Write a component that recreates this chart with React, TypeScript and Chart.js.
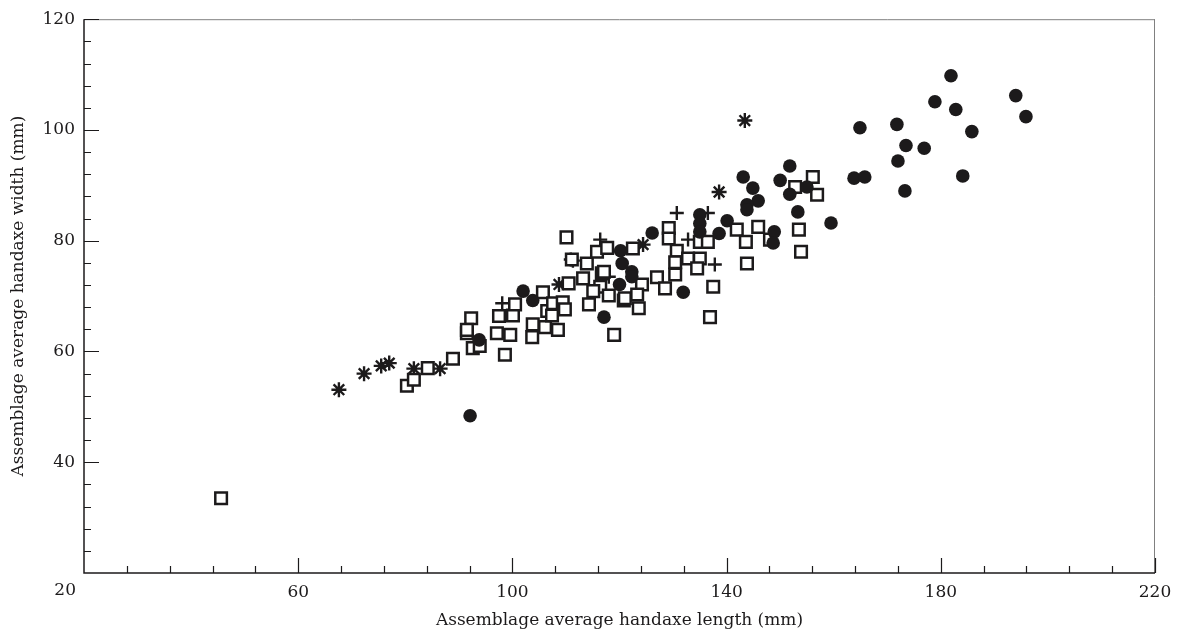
import React, { useEffect, useRef } from "react";
import { Chart, registerables } from "chart.js";

Chart.register(...registerables);

// ---- data (x = length mm, y = width mm) ----
const circlesX = [92.1, 93.8, 102.0, 103.8, 117.1, 131.9, 120.2, 120.5, 122.3, 120.0, 122.3, 126.1, 135.0, 135.0, 135.0, 138.6, 140.1, 143.1, 144.9, 145.9, 143.8, 143.8, 148.9, 148.7, 151.8, 150.0, 151.8, 155.0, 153.3, 159.5, 163.8, 165.8, 181.9, 178.9, 182.8, 185.8, 194.0, 195.9, 164.9, 171.8, 173.5, 176.9, 172.0, 184.1, 173.3];
const circlesY = [48.4, 62.1, 70.9, 69.2, 66.2, 70.7, 78.2, 75.9, 74.4, 72.1, 73.5, 81.4, 84.7, 83.1, 81.6, 81.3, 83.6, 91.5, 89.5, 87.2, 86.5, 85.6, 81.6, 79.6, 93.5, 90.9, 88.4, 89.7, 85.2, 83.2, 91.3, 91.5, 109.8, 105.1, 103.7, 99.7, 106.2, 102.4, 100.4, 101.0, 97.2, 96.7, 94.4, 91.7, 89.0];

const squaresX = [45.6, 80.3, 81.6, 84.2, 88.9, 92.6, 93.9, 98.6, 99.6, 97.1, 91.5, 92.3, 91.5, 97.5, 100.1, 100.5, 103.8, 103.7, 106.1, 105.7, 106.5, 107.4, 107.6, 109.4, 109.8, 108.5, 110.1, 111.1, 113.2, 113.9, 115.8, 116.7, 116.4, 115.1, 114.3, 118.0, 119.0, 120.8, 124.2, 123.3, 123.6, 127.0, 128.5, 129.2, 129.2, 130.7, 130.4, 130.4, 132.8, 135.0, 136.5, 135.0, 134.5, 141.9, 143.6, 143.8, 145.9, 148.1, 137.5, 136.9, 153.5, 153.9, 152.8, 156.1, 156.9, 122.5, 117.7, 117.1, 121.0, 110.5];
const squaresY = [33.5, 53.8, 54.9, 57.0, 58.7, 60.6, 61.0, 59.4, 63.0, 63.3, 63.3, 66.0, 63.9, 66.4, 66.5, 68.5, 64.9, 62.6, 64.4, 70.7, 67.3, 66.5, 68.7, 68.9, 67.6, 63.9, 80.6, 76.6, 73.2, 75.9, 78.0, 74.1, 71.7, 70.9, 68.5, 70.1, 63.0, 69.2, 72.1, 70.3, 67.8, 73.4, 71.4, 82.3, 80.4, 78.2, 76.1, 73.9, 76.8, 79.8, 79.8, 76.8, 75.0, 82.0, 79.8, 75.9, 82.5, 80.2, 71.7, 66.2, 82.0, 78.0, 89.7, 91.5, 88.3, 78.6, 78.7, 74.4, 69.6, 72.3];

const plusX = [110.9, 98.1, 111.3, 118.0, 116.4, 130.7, 136.5, 132.8, 137.8];
const plusY = [76.6, 68.7, 76.4, 73.5, 80.2, 85.0, 85.0, 80.2, 75.7];

const starsX = [67.6, 72.3, 75.5, 77.0, 81.6, 86.5, 108.7, 124.4, 138.6, 143.4];
const starsY = [53.1, 56.0, 57.4, 57.9, 56.9, 56.9, 72.1, 79.3, 88.8, 101.7];

const xTickLabels = ["20", "60", "100", "140", "180", "220"];
const yTickLabels = ["40", "60", "80", "100", "120"];
const xTitle = "Assemblage average handaxe length (mm)";
const yTitle = "Assemblage average handaxe width (mm)";

const INK = "#1c1a1b";
const FONT = '"DejaVu Serif", serif';

const pts = (xs: number[], ys: number[]) => xs.map((x, i) => ({ x, y: ys[i] }));

const axesPlugin = {
  id: "axesPlugin",
  afterDraw(chart: any) {
    const { ctx, chartArea: a, scales } = chart;
    const x = scales.x;
    const y = scales.y;
    ctx.save();
    // top & right frame
    ctx.strokeStyle = "#808080";
    ctx.lineWidth = 1;
    ctx.beginPath();
    ctx.moveTo(a.left, a.top + 0.5);
    ctx.lineTo(a.right, a.top + 0.5);
    ctx.moveTo(a.right - 0.5, a.top);
    ctx.lineTo(a.right - 0.5, a.bottom);
    ctx.stroke();
    // left & bottom axes
    ctx.strokeStyle = INK;
    ctx.lineWidth = 1.5;
    ctx.beginPath();
    ctx.moveTo(a.left, a.top);
    ctx.lineTo(a.left, a.bottom);
    ctx.lineTo(a.right, a.bottom);
    ctx.stroke();
    // ticks (inward)
    ctx.lineWidth = 1.2;
    ctx.beginPath();
    for (let v = 28; v <= 220; v += 8) {
      const px = Math.round(x.getPixelForValue(v)) + 0.5;
      const len = (v - 20) % 40 === 0 ? 15 : 7;
      ctx.moveTo(px, a.bottom);
      ctx.lineTo(px, a.bottom - len);
    }
    for (let v = 24; v <= 120; v += 4) {
      const py = Math.round(y.getPixelForValue(v)) + 0.5;
      const len = (v - 20) % 20 === 0 ? 15 : 7;
      ctx.moveTo(a.left, py);
      ctx.lineTo(a.left + len, py);
    }
    ctx.stroke();
    // origin label
    ctx.fillStyle = INK;
    ctx.font = `17px ${FONT}`;
    ctx.textAlign = "right";
    ctx.textBaseline = "top";
    ctx.fillText(xTickLabels[0], a.left - 8, a.bottom + 9);
    ctx.restore();
  },
};

export default function App() {
  const ref = useRef<HTMLCanvasElement>(null);
  useEffect(() => {
    if (!ref.current) return;
    const chart = new Chart(ref.current, {
      type: "scatter",
      data: {
        datasets: [
          {
            label: "circles",
            data: pts(circlesX, circlesY),
            pointStyle: "circle",
            pointRadius: 6.8,
            backgroundColor: INK,
            borderColor: INK,
            borderWidth: 0,
          },
          {
            label: "squares",
            data: pts(squaresX, squaresY),
            pointStyle: "rect",
            pointRadius: 8.2,
            backgroundColor: "#ffffff",
            borderColor: INK,
            borderWidth: 2.5,
          },
          {
            label: "plus",
            data: pts(plusX, plusY),
            pointStyle: "cross",
            pointRadius: 7,
            borderColor: INK,
            borderWidth: 2.4,
          },
          {
            label: "stars",
            data: pts(starsX, starsY),
            pointStyle: "star",
            pointRadius: 7.5,
            borderColor: INK,
            borderWidth: 2.4,
          },
        ],
      },
      options: {
        animation: false,
        responsive: true,
        maintainAspectRatio: false,
        layout: { padding: { top: 16, right: 27, left: 0, bottom: 0 } },
        plugins: { legend: { display: false }, tooltip: { enabled: false } },
        scales: {
          x: {
            type: "linear",
            min: 20,
            max: 220,
            grid: { display: false, drawTicks: false },
            border: { display: false },
            ticks: {
              stepSize: 40,
              padding: 9,
              color: INK,
              font: { family: FONT, size: 17 },
              maxRotation: 0,
              callback: (v: any) => {
                const s = String(v);
                return s === xTickLabels[0] ? "" : xTickLabels.includes(s) ? s : "";
              },
            },
            title: {
              display: true,
              text: xTitle,
              color: INK,
              font: { family: FONT, size: 17 },
              padding: { top: 0, bottom: 6 },
            },
            afterFit: (s: any) => {
              s.height = 64;
            },
          },
          y: {
            type: "linear",
            min: 20,
            max: 120,
            grid: { display: false, drawTicks: false },
            border: { display: false },
            ticks: {
              stepSize: 20,
              padding: 9,
              color: INK,
              font: { family: FONT, size: 17 },
              callback: (v: any) => {
                const s = String(v);
                return yTickLabels.includes(s) ? s : "";
              },
            },
            title: {
              display: true,
              text: yTitle,
              color: INK,
              font: { family: FONT, size: 17 },
              padding: { top: 8, bottom: 0 },
            },
            afterFit: (s: any) => {
              s.width = 84;
            },
          },
        },
      },
      plugins: [axesPlugin],
    });
    return () => chart.destroy();
  }, []);
  return (
    <div style={{ position: "fixed", left: 0, top: 0, width: "100vw", height: "100vh", background: "#fff" }}>
      <canvas ref={ref} />
    </div>
  );
}
